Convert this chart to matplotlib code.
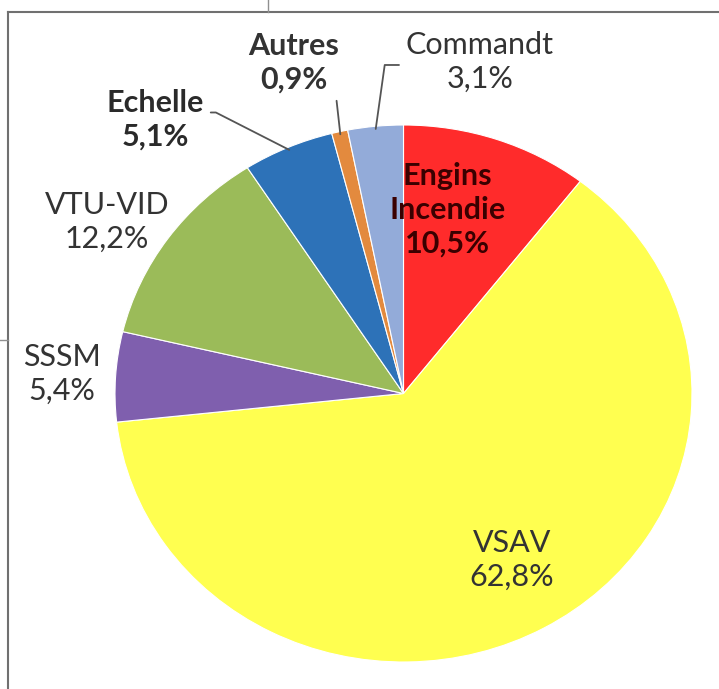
import numpy as np
import matplotlib.pyplot as plt
from matplotlib.lines import Line2D

# ---- données du graphique ----
categories = ['Engins\nIncendie', 'VSAV', 'SSSM', 'VTU-VID', 'Echelle', 'Autres', 'Commandt']
values = [10.5, 62.8, 5.4, 12.2, 5.1, 0.9, 3.1]
pct_labels = ['10,5%', '62,8%', '5,4%', '12,2%', '5,1%', '0,9%', '3,1%']

colors = ['#FF2B2B', '#FFFF50', '#7F5FAE', '#9BBB59', '#2D72B8', '#E38A3E', '#93ABD9']
text_colors = ['#3a0000', '#333333', '#333333', '#333333', '#2a2a2a', '#333333', '#333333']
weights = ['bold', 'normal', 'normal', 'normal', 'bold', 'bold', 'normal']

# position des étiquettes (unités du camembert) et lignes de rappel
label_pos = [(0.152, 0.683), (0.376, -0.62), (-1.184, 0.073), (-1.028, 0.639),
             (-0.861, 1.019), (-0.38, 1.231), (0.265, 1.235)]
leaders = {4: dict(relpos=(1.0, 0.62), connectionstyle='angle,angleA=0,angleB=-27,rad=0'),
           5: dict(relpos=(0.95, 0.15), connectionstyle='arc3'),
           6: dict(relpos=(0.0, 0.45), connectionstyle='angle,angleA=180,angleB=82,rad=0')}

W, H = 719, 689
fig = plt.figure(figsize=(W/100, H/100), dpi=100)
ax = fig.add_axes([115/W, 27/H, 577/W, 537/H])

wedges, _ = ax.pie(values, colors=colors, startangle=90, counterclock=False, radius=1,
                   wedgeprops=dict(edgecolor='white', linewidth=0.8))
ax.set_aspect('auto')
ax.set_xlim(-1, 1)
ax.set_ylim(-1, 1)
ax.axis('off')

for i, (name, pct) in enumerate(zip(categories, pct_labels)):
    txt = name + '\n' + pct
    if i in leaders:
        w = wedges[i]
        mid = np.deg2rad((w.theta1 + w.theta2) / 2)
        pt = (0.99*np.cos(mid), 0.99*np.sin(mid))
        ax.annotate(txt, xy=pt, xytext=label_pos[i], ha='center', va='center',
                    fontsize=22, family='Lato', color=text_colors[i], fontweight=weights[i],
                    linespacing=1.25, annotation_clip=False,
                    arrowprops=dict(arrowstyle='-', color='#555555', lw=1.3, shrinkA=3, shrinkB=0,
                                    relpos=leaders[i]['relpos'],
                                    connectionstyle=leaders[i]['connectionstyle']))
    else:
        ax.text(label_pos[i][0], label_pos[i][1], txt, ha='center', va='center',
                fontsize=22, family='Lato', color=text_colors[i], fontweight=weights[i],
                linespacing=1.25, clip_on=False)

# cadre de l'image
fig.add_artist(Line2D([8/W, 8/W], [0, 1-12/H], color='#707070', lw=1.5))
fig.add_artist(Line2D([8/W, 1], [1-12/H, 1-12/H], color='#707070', lw=1.5))
fig.add_artist(Line2D([268/W, 268/W], [1-12/H, 1], color='#909090', lw=1))
fig.add_artist(Line2D([0, 8/W], [1-340/H, 1-340/H], color='#909090', lw=1))

fig.savefig('out.png', dpi=100)
